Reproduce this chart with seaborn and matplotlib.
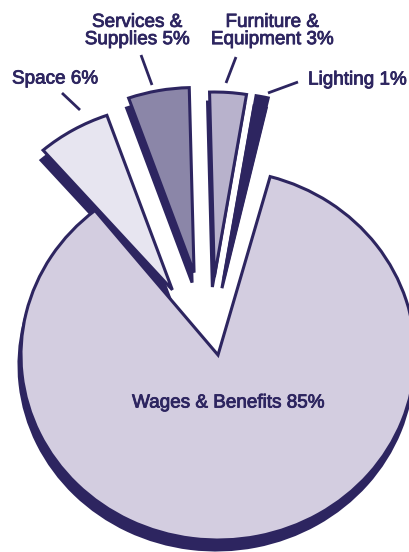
import matplotlib
matplotlib.use("Agg")
import matplotlib.pyplot as plt
import matplotlib.patheffects as pe
import seaborn as sns

# Budget breakdown (percent of total)
categories = ["Wages & Benefits", "Lighting", "Furniture &\nEquipment", "Services &\nSupplies", "Space"]
shares = [85, 1, 3, 5, 6]
explode = [0.0, 0.39, 0.39, 0.42, 0.37]

NAVY = "#2d2560"
fills = ["#d3cde0", NAVY, "#b8b2cc", "#8b86a8", "#e7e5f0"]

sns.set_style("white")
plt.rcParams["font.family"] = ["Liberation Sans", "DejaVu Sans"]

W, H = 410, 552
RX, RY = 197.0, 185.0          # horizontal / vertical pixel radius of the pie


def P(x, y):
    """Pixel position (origin top-left) -> data coordinates."""
    return x / RX, (H - y) / RY


fig = plt.figure(figsize=(W / 100, H / 100), dpi=100)
ax = fig.add_axes([0, 0, 1, 1])

SHADOW = (-2, 10)  # drop-shadow offset in pixels
LW = 2.2


def draw_pie(center_px, startangle, keep, colors, zorder):
    """Draw the pie, keeping only the wedges whose index is in `keep`."""
    wedges, _ = ax.pie(shares, explode=explode, startangle=startangle, radius=1.0,
                       center=P(*center_px), colors=colors, normalize=True,
                       wedgeprops=dict(edgecolor=NAVY, linewidth=LW, joinstyle="miter"))
    for i, w in enumerate(wedges):
        w.set_zorder(zorder)
        if i not in keep:
            w.set_visible(False)
    return wedges


big = {0}
small = {1, 2, 3, 4}
big_center, big_start = (218, 355), 128.65
small_center, small_start = (209, 349), 131.0

for keep, c, s in ((big, big_center, big_start), (small, small_center, small_start)):
    draw_pie((c[0] + SHADOW[0], c[1] + SHADOW[1]), s, keep, [NAVY] * len(shares), 1)
for keep, c, s in ((big, big_center, big_start), (small, small_center, small_start)):
    draw_pie(c, s, keep, fills, 2)

ax.set_aspect("auto")
ax.set_xlim(0, W / RX)
ax.set_ylim(0, H / RY)
ax.axis("off")

txt = dict(color=NAVY, fontsize=13.6, ha="center", va="center", linespacing=1.02,
           zorder=5, path_effects=[pe.withStroke(linewidth=0.6, foreground=NAVY)])

# label centres and leader lines, in pixels
label_pos = [(228, 403), (357, 80), (272, 31), (137, 31), (55, 79)]
leaders = [None, ((298, 82), (268, 93)), ((236, 57), (226, 83)),
           ((141, 55), (152, 85)), ((62, 93), (80, 110))]

for name, val, pos, lead in zip(categories, shares, label_pos, leaders):
    ax.text(*P(*pos), f"{name} {val}%", **txt)
    if lead is not None:
        (x0, y0), (x1, y1) = lead
        a, b = P(x0, y0)
        c, d = P(x1, y1)
        ax.plot([a, c], [b, d], color=NAVY, lw=2.0, solid_capstyle="butt", zorder=5)

fig.savefig("out.png", dpi=100, facecolor="white")
